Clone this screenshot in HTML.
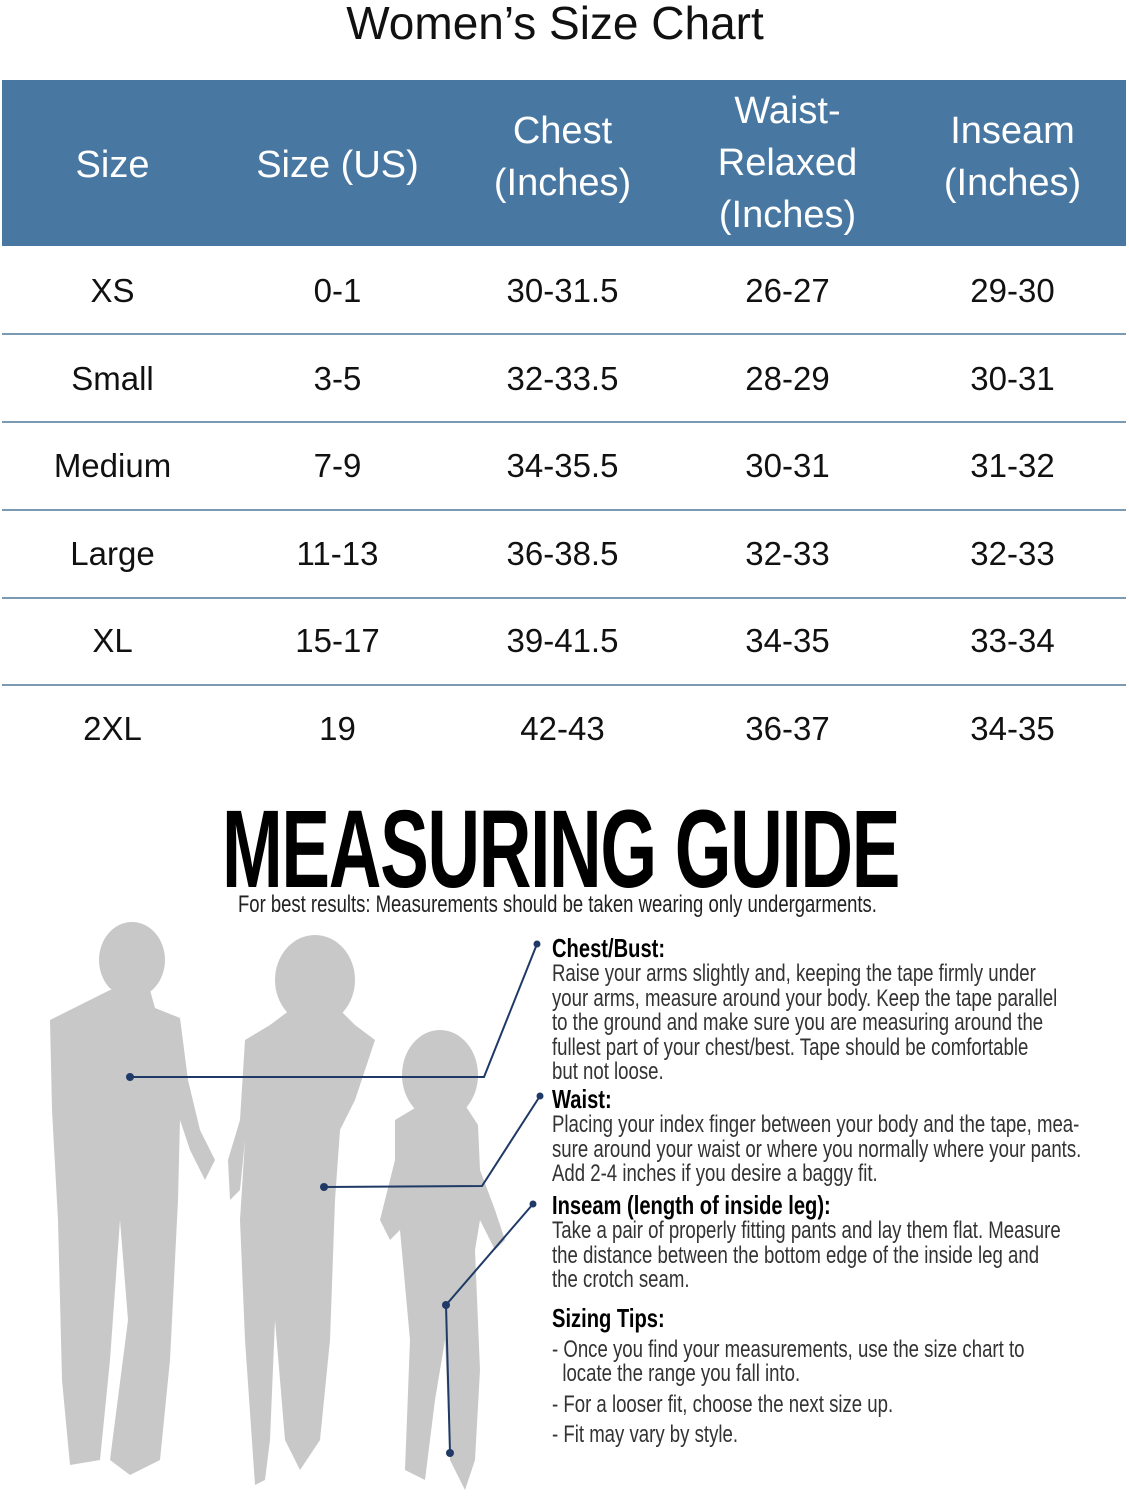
<!DOCTYPE html>
<html><head><meta charset="utf-8"><style>
*{margin:0;padding:0;box-sizing:border-box}
body{width:1129px;height:1500px;background:#fff;position:relative;overflow:hidden;font-family:"Liberation Sans",sans-serif;color:#111}
.title{position:absolute;top:-4px;left:0;width:1110px;text-align:center;font-size:46px;color:#111}
.hdr{position:absolute;left:2px;top:80px;width:1124px;height:166px;background:#4878a2}
.c{position:absolute;width:225px;text-align:center}
.h{color:#fff;font-size:38px;line-height:52px}
.r{font-size:33px;color:#111}
.line{position:absolute;left:2px;width:1124px;height:1.5px;background:#7d9ab3}
.mg{position:absolute;left:222px;top:790px;font-size:110px;font-weight:bold;letter-spacing:-2px;transform:scaleX(0.663);transform-origin:left top;white-space:nowrap;color:#000;line-height:120px}
.sub{position:absolute;left:238px;top:891px;font-size:24px;transform:scaleX(0.77);transform-origin:left top;white-space:nowrap;color:#222}
.txt{position:absolute;left:552px;transform:scaleX(0.775);transform-origin:left top;white-space:nowrap;font-size:24px;line-height:24.4px;color:#333}
.txt b{color:#000;font-size:26px}
</style></head><body>
<div class="title">Women’s Size Chart</div>
<div class="hdr"></div>
<div class="c h" style="left:0;top:139px">Size</div>
<div class="c h" style="left:225px;top:139px">Size (US)</div>
<div class="c h" style="left:450px;top:105px">Chest<br>(Inches)</div>
<div class="c h" style="left:675px;top:85px">Waist-<br>Relaxed<br>(Inches)</div>
<div class="c h" style="left:900px;top:105px">Inseam<br>(Inches)</div>

<div class="c r" style="left:0;top:272px">XS</div><div class="c r" style="left:225px;top:272px">0-1</div><div class="c r" style="left:450px;top:272px">30-31.5</div><div class="c r" style="left:675px;top:272px">26-27</div><div class="c r" style="left:900px;top:272px">29-30</div>
<div class="line" style="top:333px"></div>
<div class="c r" style="left:0;top:360px">Small</div><div class="c r" style="left:225px;top:360px">3-5</div><div class="c r" style="left:450px;top:360px">32-33.5</div><div class="c r" style="left:675px;top:360px">28-29</div><div class="c r" style="left:900px;top:360px">30-31</div>
<div class="line" style="top:421px"></div>
<div class="c r" style="left:0;top:447px">Medium</div><div class="c r" style="left:225px;top:447px">7-9</div><div class="c r" style="left:450px;top:447px">34-35.5</div><div class="c r" style="left:675px;top:447px">30-31</div><div class="c r" style="left:900px;top:447px">31-32</div>
<div class="line" style="top:509px"></div>
<div class="c r" style="left:0;top:535px">Large</div><div class="c r" style="left:225px;top:535px">11-13</div><div class="c r" style="left:450px;top:535px">36-38.5</div><div class="c r" style="left:675px;top:535px">32-33</div><div class="c r" style="left:900px;top:535px">32-33</div>
<div class="line" style="top:597px"></div>
<div class="c r" style="left:0;top:622px">XL</div><div class="c r" style="left:225px;top:622px">15-17</div><div class="c r" style="left:450px;top:622px">39-41.5</div><div class="c r" style="left:675px;top:622px">34-35</div><div class="c r" style="left:900px;top:622px">33-34</div>
<div class="line" style="top:684px"></div>
<div class="c r" style="left:0;top:710px">2XL</div><div class="c r" style="left:225px;top:710px">19</div><div class="c r" style="left:450px;top:710px">42-43</div><div class="c r" style="left:675px;top:710px">36-37</div><div class="c r" style="left:900px;top:710px">34-35</div>

<div class="mg">MEASURING GUIDE</div>
<div class="sub">For best results: Measurements should be taken wearing only undergarments.</div>

<svg style="position:absolute;left:0;top:900px" width="560" height="600" viewBox="0 0 560 600">
<g fill="#c8c8c8">
<ellipse cx="132" cy="60" rx="33" ry="38"/>
<path d="M110 90 L150 90 L155 108 L180 118 L188 180 L200 230 L215 260 L205 280 L190 250 L180 220 L178 300 L170 460 L160 560 L130 575 L110 560 L128 420 L120 320 L110 460 L100 560 L70 565 L62 480 L58 320 L52 210 L50 120 L80 105 Z"/>
<ellipse cx="315" cy="80" rx="40" ry="45"/>
<path d="M290 110 L340 110 L355 125 L375 140 L355 200 L340 230 L335 300 L330 440 L320 540 L300 570 L285 540 L275 420 L270 540 L265 580 L255 585 L245 440 L240 320 L245 240 L240 290 L230 300 L228 260 L240 220 L245 140 L270 125 Z"/>
<ellipse cx="440" cy="175" rx="38" ry="45"/>
<path d="M420 205 L465 205 L478 225 L480 270 L495 310 L505 340 L495 350 L480 320 L475 350 L480 470 L475 560 L465 590 L450 560 L445 440 L435 500 L425 580 L405 570 L410 440 L400 330 L390 340 L380 320 L395 260 L395 220 Z"/>
</g>
<g stroke="#1f3a66" stroke-width="2" fill="none">
<polyline points="130,177 484,177 537,44"/>
<polyline points="324,287 482,286 540,196"/>
<polyline points="533,304 446,405 450,553"/>
</g>
<g fill="#1f3a66">
<circle cx="130" cy="177" r="4"/><circle cx="537" cy="44" r="3.5"/>
<circle cx="324" cy="287" r="4"/><circle cx="540" cy="196" r="3.5"/>
<circle cx="533" cy="304" r="3.5"/><circle cx="446" cy="405" r="4"/><circle cx="450" cy="553" r="4"/>
</g>
</svg>

<div class="txt" style="top:936px">
<b>Chest/Bust:</b><br>
Raise your arms slightly and, keeping the tape firmly under<br>
your arms, measure around your body. Keep the tape parallel<br>
to the ground and make sure you are measuring around the<br>
fullest part of your chest/best. Tape should be comfortable<br>
but not loose.
</div>
<div class="txt" style="top:1087px">
<b>Waist:</b><br>
Placing your index finger between your body and the tape, mea-<br>
sure around your waist or where you normally where your pants.<br>
Add 2-4 inches if you desire a baggy fit.
</div>
<div class="txt" style="top:1193px">
<b>Inseam (length of inside leg):</b><br>
Take a pair of properly fitting pants and lay them flat. Measure<br>
the distance between the bottom edge of the inside leg and<br>
the crotch seam.
</div>
<div class="txt" style="top:1306px"><b>Sizing Tips:</b></div>
<div class="txt" style="top:1338px">- Once you find your measurements, use the size chart to<br>&nbsp;&nbsp;locate the range you fall into.</div>
<div class="txt" style="top:1393px">- For a looser fit, choose the next size up.</div>
<div class="txt" style="top:1423px">- Fit may vary by style.</div>
</body></html>
